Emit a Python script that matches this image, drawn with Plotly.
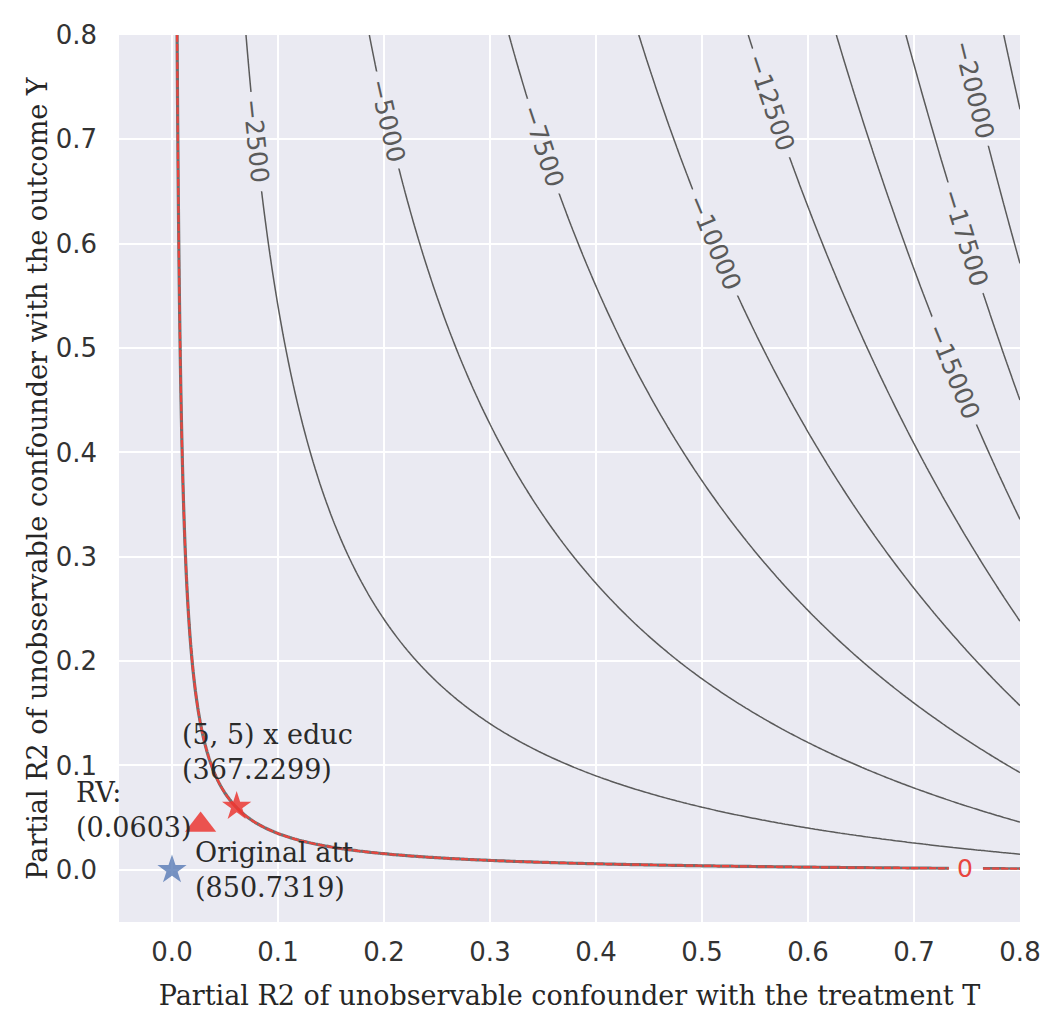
import numpy as np
import plotly.graph_objects as go

# ---- values ----
original_estimate = 850.7319          # "Original att"
bias_scale = 13676.0
gray_levels = [-22500, -20000, -17500, -15000, -12500, -10000, -7500, -5000, -2500]
labelled_levels = [-20000, -17500, -15000, -12500, -10000, -7500, -5000, -2500]
label_y = [0.748, 0.606, 0.478, 0.735, 0.601, 0.693, 0.718, 0.698]   # where labels sit (read)
zero_level = [0]
zero_label_x = 0.748

benchmark_x = [0.061]
benchmark_y = [0.0607]
benchmark_label = "(5, 5) x educ<br>(367.2299)"
rv_x = [0.027]
rv_y = [0.043]
rv_label = "RV:<br>(0.0603)"
orig_x = [0.0]
orig_y = [0.0]
orig_label = "Original att<br>(850.7319)"

x_ticks = [0.0, 0.1, 0.2, 0.3, 0.4, 0.5, 0.6, 0.7, 0.8]
y_ticks = [0.0, 0.1, 0.2, 0.3, 0.4, 0.5, 0.6, 0.7, 0.8]

X_RANGE = [-0.05, 0.8]
Y_RANGE = [-0.05, 0.8]
LABEL_SIZE = 25

# grid for the sensitivity surface
r2_dz = np.unique(np.concatenate([np.linspace(0, 0.02, 101), np.linspace(0.02, 0.8, 360)]))
r2_yz = np.unique(np.concatenate([np.linspace(0, 0.02, 101), np.linspace(0.02, 0.8, 360)]))
X, Y = np.meshgrid(r2_dz, r2_yz)
Z = original_estimate - bias_scale * np.sqrt(X * Y / (1 - X))

GRAY = "#5a5a5a"
RED = "#e8453e"
BG = "#EAEAF2"

px_per_x = 1060.0
px_per_y = 1055.0

# label placement (on the curves, rotated along them)
labels = []
for lev, ly in zip(labelled_levels, label_y):
    c = ((original_estimate - lev) / bias_scale) ** 2
    q = c / ly
    lx = q / (1 + q)
    slope = c / lx ** 2 * px_per_y / px_per_x
    ang = float(np.degrees(np.arctan(slope)))
    labels.append((lx, ly, ang, f"\u2212{abs(lev)}", GRAY))
c0 = (original_estimate / bias_scale) ** 2
zero_label_y = c0 * (1 - zero_label_x) / zero_label_x
labels.append((zero_label_x, zero_label_y, 0.0, "0", RED))

# open inline gaps in the contour lines under each label
Zg = Z.copy()
for lx, ly, ang, txt, col in labels:
    th = np.radians(ang)
    sx = (X - lx) * px_per_x
    sy = -(Y - ly) * px_per_y
    along = sx * np.cos(th) + sy * np.sin(th)
    across = -sx * np.sin(th) + sy * np.cos(th)
    n = len(txt)
    L = (0.84 + 0.64 * (n - 1)) * LABEL_SIZE + 14 if txt != "0" else 0.64 * LABEL_SIZE + 16
    Zg[(np.abs(along) < L / 2) & (np.abs(across) < 9)] = np.nan
Zg = np.round(Zg, 2)

fig = go.Figure()

def contour(levels, color, dash="solid", width=1.4):
    return go.Contour(
        x=r2_dz, y=r2_yz, z=Zg,
        autocontour=False, connectgaps=False,
        contours=dict(start=levels[0], end=levels[-1], size=2500,
                      coloring="lines", showlabels=False),
        line=dict(width=width, dash=dash, smoothing=0),
        colorscale=[[0, color], [1, color]],
        showscale=False, hoverinfo="skip",
    )

fig.add_trace(contour(gray_levels, GRAY, width=1.5))
fig.add_trace(contour(zero_level, "#707070", width=3.2))
fig.add_trace(contour(zero_level, RED, dash="7px,2px", width=2.2))

fig.add_trace(go.Scatter(x=orig_x, y=orig_y, mode="markers",
                         marker=dict(symbol="star", size=22, color="rgba(76,114,176,0.75)",
                                     line=dict(width=0)), hoverinfo="skip"))
fig.add_trace(go.Scatter(x=rv_x, y=rv_y, mode="markers",
                         marker=dict(symbol="triangle-up", size=27, color="rgba(235,55,50,0.85)",
                                     line=dict(width=0)), hoverinfo="skip"))
fig.add_trace(go.Scatter(x=benchmark_x, y=benchmark_y, mode="markers",
                         marker=dict(symbol="star", size=22, color="rgba(235,55,50,0.85)",
                                     line=dict(width=0)), hoverinfo="skip"))

for lx, ly, ang, txt, col in labels:
    fig.add_annotation(x=lx, y=ly, text=txt, showarrow=False, textangle=ang,
                       font=dict(family="DejaVu Sans", size=LABEL_SIZE, color=col))

ann_font = dict(family="DejaVu Serif", size=27, color="#2a2a2a")
fig.add_annotation(x=0.0075, y=0.146, text=benchmark_label, showarrow=False,
                   xanchor="left", yanchor="top", align="left", font=ann_font)
fig.add_annotation(x=(-0.092 - X_RANGE[0]) / (X_RANGE[1] - X_RANGE[0]), xref="paper",
                   y=0.091, text=rv_label, showarrow=False,
                   xanchor="left", yanchor="top", align="left", font=ann_font)
fig.add_annotation(x=0.0195, y=0.033, text=orig_label, showarrow=False,
                   xanchor="left", yanchor="top", align="left", font=ann_font)

fig.update_layout(
    width=1054, height=1022,
    margin=dict(l=111, r=42, t=17, b=108),
    paper_bgcolor="white", plot_bgcolor=BG,
    showlegend=False,
    xaxis=dict(range=X_RANGE, tickvals=x_ticks, ticktext=[f"{v:.1f}" for v in x_ticks],
               showgrid=True, gridcolor="white", gridwidth=2, zeroline=False,
               tickfont=dict(family="DejaVu Sans", size=26, color="#333333"),
               ticks="", ticklabelstandoff=12,
               title=dict(text="Partial R2 of unobservable confounder with the treatment T",
                          font=dict(family="DejaVu Serif", size=27, color="#262626"),
                          standoff=20)),
    yaxis=dict(range=Y_RANGE, tickvals=y_ticks, ticktext=[f"{v:.1f}" for v in y_ticks],
               showgrid=True, gridcolor="white", gridwidth=2, zeroline=False,
               tickfont=dict(family="DejaVu Sans", size=26, color="#333333"),
               ticks="", ticklabelstandoff=21,
               title=dict(text="Partial R2 of unobservable confounder with the outcome Y",
                          font=dict(family="DejaVu Serif", size=27, color="#262626"),
                          standoff=0)),
)

fig.write_html("out.html")
